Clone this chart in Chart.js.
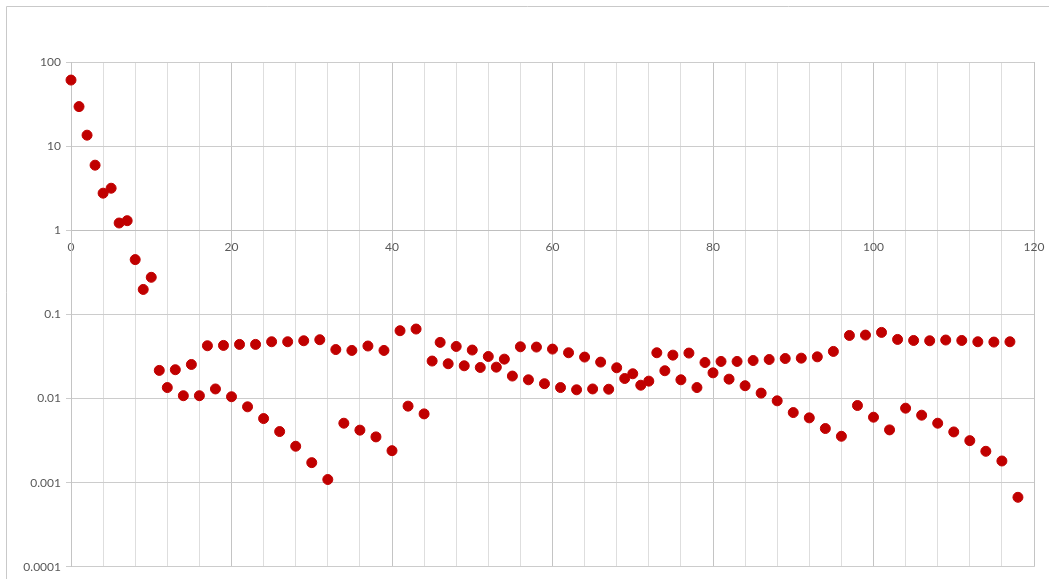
<!DOCTYPE html>
<html>
<head>
<meta charset="utf-8">
<script src="https://cdn.jsdelivr.net/npm/chart.js@4/dist/chart.umd.min.js"></script>
<style>
  html, body { margin: 0; padding: 0; background: #fff; }
  canvas { display: block; }
</style>
</head>
<body>
<canvas id="graph" width="1049" height="579"></canvas>
<script>
// one value per step, step = position in the array
const ratio = [
  61, 29.5, 13.5, 5.94, 2.76, 3.16, 1.22, 1.30, 0.448, 0.198,
  0.276, 0.0216, 0.0135, 0.0220, 0.0108, 0.0254, 0.0108, 0.0424, 0.0130, 0.0428,
  0.0105, 0.0440, 0.00797, 0.0440, 0.00578, 0.0473, 0.00405, 0.0473, 0.00271, 0.0486,
  0.00173, 0.0500, 0.00109, 0.0382, 0.00509, 0.0373, 0.00421, 0.0421, 0.00350, 0.0373,
  0.00240, 0.0640, 0.00812, 0.0670, 0.00657, 0.0279, 0.0465, 0.0259, 0.0416, 0.0245,
  0.0377, 0.0234, 0.0316, 0.0236, 0.0294, 0.0185, 0.0412, 0.0167, 0.0409, 0.0150,
  0.0387, 0.0135, 0.0350, 0.0127, 0.0311, 0.0130, 0.0271, 0.0129, 0.0232, 0.0173,
  0.0197, 0.0144, 0.0161, 0.0350, 0.0214, 0.0328, 0.0167, 0.0347, 0.0135, 0.0268,
  0.0202, 0.0276, 0.0170, 0.0276, 0.0142, 0.0283, 0.0116, 0.0291, 0.00939, 0.0299,
  0.00681, 0.0302, 0.00589, 0.0313, 0.00440, 0.0363, 0.00356, 0.0562, 0.00826, 0.0568,
  0.00600, 0.0611, 0.00424, 0.0504, 0.00768, 0.0490, 0.00634, 0.0486, 0.00509, 0.0496,
  0.00401, 0.0490, 0.00316, 0.0473, 0.00236, 0.0469, 0.00181, 0.0473, 0.00067
];

const yTicks = [0.0001, 0.001, 0.01, 0.1, 1, 10, 100];
const yTickLabels = ["0.0001", "0.001", "0.01", "0.1", "1", "10", "100"];
const xLabelEvery = 20;

const points = ratio.map((v, i) => ({ x: i, y: v }));

// thin frame along the top and left edges
const frame = {
  id: "frame",
  beforeDraw(chart) {
    const c = chart.ctx;
    c.save();
    c.strokeStyle = "#c9c9c9";
    c.lineWidth = 1;
    c.beginPath();
    c.moveTo(6.5, chart.height);
    c.lineTo(6.5, 6.5);
    c.lineTo(chart.width, 6.5);
    c.stroke();
    c.restore();
  }
};

Chart.defaults.font.family = "Lato, 'Open Sans', sans-serif";
Chart.defaults.font.size = 12;
Chart.defaults.color = "#595959";

new Chart(document.getElementById("graph"), {
  type: "scatter",
  data: {
    datasets: [{
      data: points,
      backgroundColor: "#c00000",
      borderColor: "#c00000",
      pointRadius: 5,
      pointHoverRadius: 5,
      clip: false
    }]
  },
  options: {
    responsive: false,
    animation: false,
    layout: { padding: { top: 62, right: 15, bottom: 12, left: 0 } },
    plugins: {
      legend: { display: false },
      tooltip: { enabled: false }
    },
    scales: {
      x: {
        type: "linear",
        position: { y: 1 },
        min: 0,
        max: 120,
        afterFit: s => { s.paddingLeft = 0; s.paddingRight = 0; },
        ticks: {
          stepSize: 4,
          padding: 10,
          maxRotation: 0,
          autoSkip: false,
          callback: v => (v % xLabelEvery === 0 ? String(v) : "")
        },
        grid: {
          color: ctx => (ctx.tick && ctx.tick.value % xLabelEvery === 0 ? "#c4c4c4" : "#dedede"),
          drawTicks: false
        },
        border: { color: "#bfbfbf" }
      },
      y: {
        type: "logarithmic",
        min: 0.0001,
        max: 100,
        afterBuildTicks: s => { s.ticks = yTicks.map(v => ({ value: v })); },
        afterFit: s => { s.width = 71; },
        ticks: {
          padding: 5,
          autoSkip: false,
          callback: (v) => yTickLabels[yTicks.indexOf(v)] ?? ""
        },
        grid: { color: "#cccccc", tickLength: 5 },
        border: { color: "#c4c4c4" }
      }
    }
  },
  plugins: [frame]
});
</script>
</body>
</html>
